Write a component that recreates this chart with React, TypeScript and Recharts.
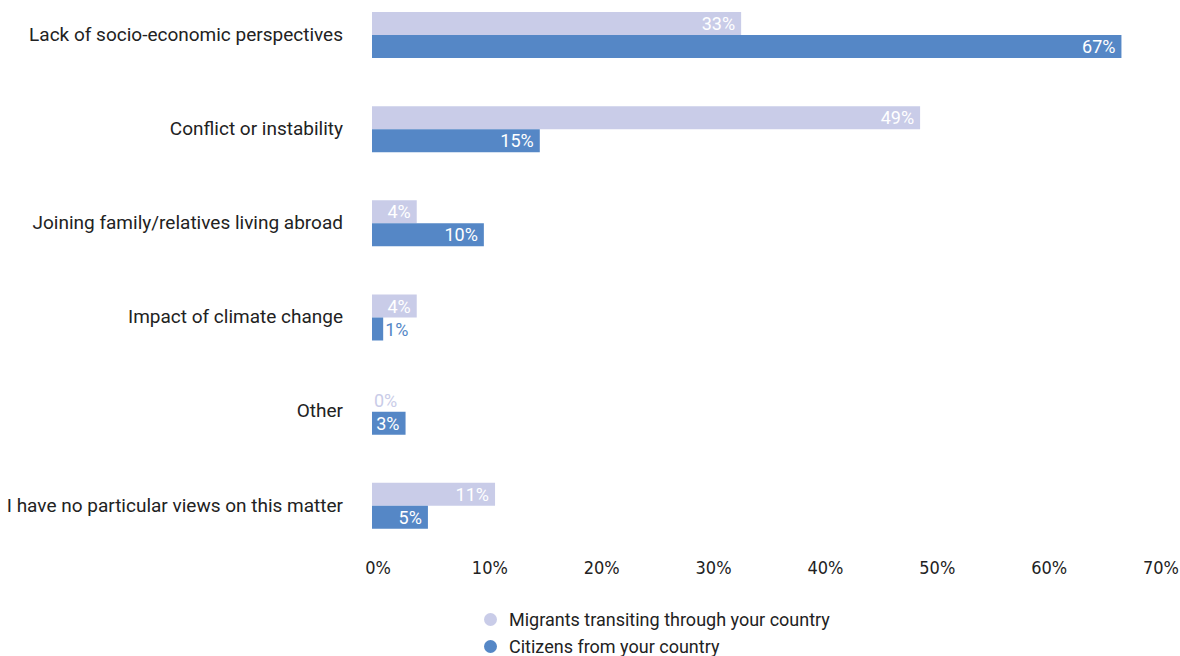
import React from "react";
import { BarChart, Bar, XAxis, YAxis, Legend } from "recharts";

// reasons for migration (survey answers)
const categories = [
  "Lack of socio-economic perspectives",
  "Conflict or instability",
  "Joining family/relatives living abroad",
  "Impact of climate change",
  "Other",
  "I have no particular views on this matter",
];

// % per answer
const migrantsValues = [33, 49, 4, 4, 0, 11];
const citizensValues = [67, 15, 10, 1, 3, 5];

const xTicks = [0, 10, 20, 30, 40, 50, 60, 70];

const seriesNames = {
  migrants: "Migrants transiting through your country",
  citizens: "Citizens from your country",
};

const LIGHT = "#c9cce8";
const DARK = "#5587c6";
const FONT = "Roboto, 'Noto Sans', sans-serif";

const data = categories.map((name, i) => ({
  name,
  migrants: migrantsValues[i],
  citizens: citizensValues[i],
}));

// label inside the bar if it fits, otherwise just after it in the bar colour
function makeLabel(color: string) {
  return (props: any) => {
    const { x, y, width, height, value } = props;
    const text = `${value}%`;
    const textWidth = text.length * 8.5;
    const cy = y + height / 2;
    const inside = width >= textWidth;
    return (
      <text
        x={inside ? x + width - 6 : x + (width || 0) + 2}
        y={cy}
        textAnchor={inside ? "end" : "start"}
        dominantBaseline="central"
        fill={inside ? "#ffffff" : color}
        fontSize={18}
        fontFamily={FONT}
      >
        {text}
      </text>
    );
  };
}

function LegendContent() {
  const items = [
    { label: seriesNames.migrants, color: LIGHT },
    { label: seriesNames.citizens, color: DARK },
  ];
  return (
    <div
      style={{
        height: 60,
        paddingTop: 10,
        paddingLeft: 484,
        boxSizing: "border-box",
        fontFamily: FONT,
        fontSize: 18,
        color: "#222",
      }}
    >
      {items.map((item) => (
        <div
          key={item.label}
          style={{ display: "flex", alignItems: "center", height: 27 }}
        >
          <span
            style={{
              width: 13,
              height: 13,
              borderRadius: "50%",
              backgroundColor: item.color,
              marginRight: 12,
              display: "inline-block",
            }}
          />
          <span>{item.label}</span>
        </div>
      ))}
    </div>
  );
}

export default function App() {
  return (
    <div
      style={{
        position: "absolute",
        left: 0,
        top: 0,
        width: 1180,
        height: 656,
        fontFamily: FONT,
        background: "#fff",
      }}
    >
      <BarChart
        width={1180}
        height={656}
        data={data}
        layout="vertical"
        margin={{ top: -12, right: 25, left: 0, bottom: 0 }}
        barGap={0}
      >
        <XAxis
          type="number"
          domain={[0, 70]}
          ticks={xTicks}
          interval={0}
          tickFormatter={(v) => `${v}%`}
          axisLine={false}
          tickLine={false}
          tickSize={0}
          tickMargin={8}
          height={43}
          tick={{
            fontSize: 18,
            fill: "#222",
            fontFamily: "'Liberation Sans Narrow', 'DejaVu Sans', sans-serif",
            fontStretch: "condensed",
            dx: 6,
          }}
        />
        <YAxis
          type="category"
          dataKey="name"
          width={372}
          interval={0}
          axisLine={false}
          tickLine={false}
          tickSize={0}
          tickMargin={29}
          tick={{ fontSize: 19, fill: "#222", fontFamily: FONT, dy: -1 }}
        />
        <Legend verticalAlign="bottom" content={<LegendContent />} />
        <Bar
          dataKey="migrants"
          name={seriesNames.migrants}
          fill={LIGHT}
          barSize={23}
          minPointSize={0.01}
          isAnimationActive={false}
          label={makeLabel(LIGHT)}
        />
        <Bar
          dataKey="citizens"
          name={seriesNames.citizens}
          fill={DARK}
          barSize={23}
          isAnimationActive={false}
          label={makeLabel(DARK)}
        />
      </BarChart>
    </div>
  );
}
